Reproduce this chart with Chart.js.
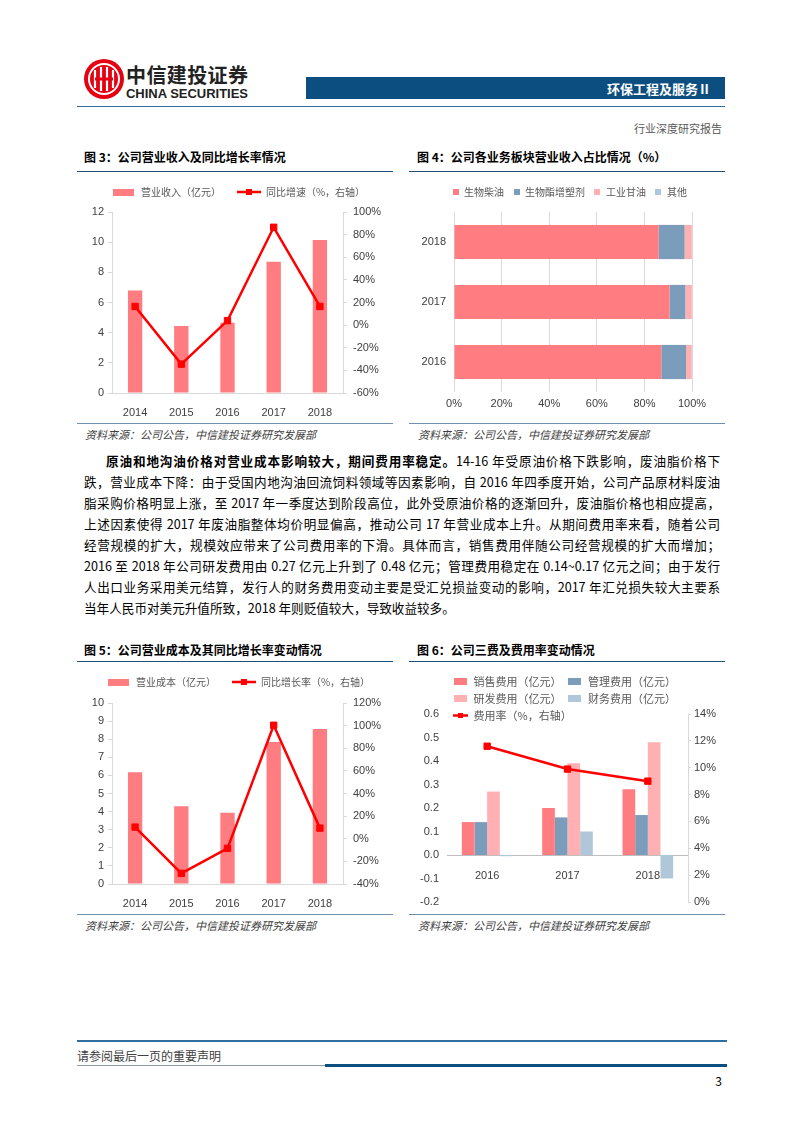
<!DOCTYPE html>
<html>
<head>
<meta charset="utf-8">
<script src="https://cdn.jsdelivr.net/npm/chart.js@4.4.1/dist/chart.umd.min.js"></script>
<style>
body{margin:0;background:#fff;}
#page{position:relative;width:802px;height:1133px;overflow:hidden;background:#fff;font-family:"Noto Sans CJK SC",sans-serif;color:#000;}
.abs{position:absolute;}
.title{position:absolute;font-size:12px;font-weight:bold;line-height:16px;white-space:nowrap;}
.rule{position:absolute;height:0;border-top:1.5px solid #1F4E79;}
.srule{position:absolute;height:0;border-top:1px solid #6F8FAF;}
.src{position:absolute;font-size:11px;font-style:italic;color:#404040;line-height:14px;white-space:nowrap;}
canvas{position:absolute;}
#body{position:absolute;left:84px;top:450px;width:636px;font-size:12.6px;}
#body div{height:21px;line-height:21px;text-align:justify;text-align-last:justify;}
#body div.last{text-align-last:left;}
</style>
</head>
<body>
<div id="page">

<svg class="abs" style="left:76px;top:56px" width="180" height="48">
  <circle cx="28" cy="23" r="20" fill="#E50012"/>
  <circle cx="28" cy="23" r="15" fill="none" stroke="#fff" stroke-width="2"/>
  <path d="M19 14 v18 M25 11 v24 M31 11 v24 M37 14 v18" stroke="#fff" stroke-width="2.2"/>
  <path d="M19 23 h18" stroke="#E50012" stroke-width="3"/>
  <text x="50" y="27" font-size="20" font-weight="bold" fill="#222" textLength="122" font-family="Noto Sans CJK SC">中信建投证券</text>
  <text x="50" y="42" font-size="13" font-weight="bold" fill="#222" textLength="122" font-family="Liberation Sans">CHINA SECURITIES</text>
</svg>
<div class="abs" style="left:306px;top:77px;width:419px;height:22px;background:#0C4E80;"></div>
<div class="abs" style="left:306px;top:80px;width:405px;text-align:right;color:#fff;font-size:13px;font-weight:bold;line-height:18px;">环保工程及服务Ⅱ</div>
<div class="abs" style="left:77px;top:106px;width:648px;height:0;border-top:1.5px solid #2E6E9E;"></div>
<div class="abs" style="left:500px;top:120px;width:222px;text-align:right;color:#595959;font-size:11px;line-height:16px;">行业深度研究报告</div>

<div class="title" style="left:84px;top:149px;">图 3：公司营业收入及同比增长率情况</div>
<div class="rule" style="left:77px;top:171px;width:316px;"></div>
<canvas id="c3" width="323" height="247" style="left:77px;top:171px;"></canvas>
<div class="srule" style="left:77px;top:423px;width:316px;"></div>
<div class="src" style="left:85px;top:427px;">资料来源：公司公告，中信建投证券研究发展部</div>

<div class="title" style="left:417px;top:149px;">图 4：公司各业务板块营业收入占比情况（%）</div>
<div class="rule" style="left:409px;top:171px;width:316px;"></div>
<canvas id="c4" width="321" height="239" style="left:409px;top:178px;"></canvas>
<div class="srule" style="left:409px;top:423px;width:316px;"></div>
<div class="src" style="left:418px;top:427px;">资料来源：公司公告，中信建投证券研究发展部</div>

<div id="body">
<div style="text-indent:22px;"><b>原油和地沟油价格对营业成本影响较大，期间费用率稳定。</b>14-16 年受原油价格下跌影响，废油脂价格下</div>
<div>跌，营业成本下降：由于受国内地沟油回流饲料领域等因素影响，自 2016 年四季度开始，公司产品原材料废油</div>
<div>脂采购价格明显上涨，至 2017 年一季度达到阶段高位，此外受原油价格的逐渐回升，废油脂价格也相应提高，</div>
<div>上述因素使得 2017 年废油脂整体均价明显偏高，推动公司 17 年营业成本上升。从期间费用率来看，随着公司</div>
<div>经营规模的扩大，规模效应带来了公司费用率的下滑。具体而言，销售费用伴随公司经营规模的扩大而增加；</div>
<div>2016 至 2018 年公司研发费用由 0.27 亿元上升到了 0.48 亿元；管理费用稳定在 0.14~0.17 亿元之间；由于发行</div>
<div>人出口业务采用美元结算，发行人的财务费用变动主要是受汇兑损益变动的影响，2017 年汇兑损失较大主要系</div>
<div class="last">当年人民币对美元升值所致，2018 年则贬值较大，导致收益较多。</div>
</div>

<div class="title" style="left:84px;top:642px;">图 5：公司营业成本及其同比增长率变动情况</div>
<div class="rule" style="left:77px;top:661px;width:316px;"></div>
<canvas id="c5" width="323" height="248" style="left:77px;top:661px;"></canvas>
<div class="srule" style="left:77px;top:914px;width:316px;"></div>
<div class="src" style="left:85px;top:918px;">资料来源：公司公告，中信建投证券研究发展部</div>

<div class="title" style="left:417px;top:642px;">图 6：公司三费及费用率变动情况</div>
<div class="rule" style="left:409px;top:661px;width:316px;"></div>
<canvas id="c6" width="321" height="242" style="left:409px;top:670px;"></canvas>
<div class="srule" style="left:409px;top:914px;width:316px;"></div>
<div class="src" style="left:418px;top:918px;">资料来源：公司公告，中信建投证券研究发展部</div>

<div class="abs" style="left:77px;top:1040px;width:650px;height:0;border-top:2px solid #2E6E9E;"></div>
<div class="abs" style="left:77px;top:1048px;color:#404040;font-size:12px;line-height:16px;">请参阅最后一页的重要声明</div>
<div class="abs" style="left:77px;top:1065px;width:248px;height:0;border-top:1px solid #8C9BAA;"></div>
<div class="abs" style="left:325px;top:1064px;width:402px;height:3px;background:#0C4E80;"></div>
<div class="abs" style="left:700px;top:1073px;width:22px;text-align:right;font-size:12px;line-height:16px;">3</div>
</div>

<script>
// fig 3
const years5 = ['2014','2015','2016','2017','2018'];
const revenue = [6.8, 4.45, 4.65, 8.7, 10.15];
const revenueYoY = [16.5, -34.5, 4, 86.5, 16.5];

// fig 4
const shareYears = ['2018','2017','2016'];
const shareBiodiesel = [86.0, 90.6, 87.1];
const sharePlasticizer = [10.9, 6.6, 10.4];
const shareGlycerin = [3.0, 2.7, 2.3];
const shareOther = [0.1, 0.1, 0.2];

// fig 5
const cost = [6.18, 4.3, 3.93, 7.85, 8.57];
const costYoY = [10.3, -30.6, -8.5, 100.3, 9.4];

// fig 6
const feeYears = ['2016','2017','2018'];
const salesFee = [0.14, 0.20, 0.28];
const adminFee = [0.14, 0.16, 0.17];
const rdFee = [0.27, 0.39, 0.48];
const finFee = [-0.005, 0.10, -0.10];
const feeRate = [11.6, 9.9, 9.0];

const FONT = '"Liberation Sans", Arial, sans-serif';
const CJK = '"Noto Sans CJK SC", sans-serif';
const TICK = '#404040';
const AXIS = '#D9D9D9';
const RED = '#FF0000';
const PINK = '#FF7C80';
const STEEL = '#7B9DBB';
const LPINK = '#FFB0B3';
const LBLUE = '#B0C6D9';

// legend needs to be shorter than its rows in fig 6, so its height is set by hand
const fixLegend = {
  id: 'fixLegend',
  beforeLayout(chart, args, opts) {
    const lg = chart.legend;
    if (!lg || lg._fixed) return;
    const fit = lg.fit.bind(lg);
    lg.fit = function () { fit(); this._realH = this.height; this.height = opts.height; };
    lg._fixed = true;
  },
  afterLayout(chart) {
    const lg = chart.legend;
    if (lg && lg._realH) lg.bottom = lg.top + lg._realH + 20;
  }
};

function legendImg(kind, color, w, h) {
  const c = document.createElement('canvas');
  c.width = w; c.height = h;
  const g = c.getContext('2d');
  g.fillStyle = color; g.strokeStyle = color;
  if (kind === 'box') {
    g.fillRect(0, 0, w, h);
  } else {
    g.lineWidth = 2.5;
    g.beginPath(); g.moveTo(0, h / 2); g.lineTo(w, h / 2); g.stroke();
    const s = Math.min(6, h - 2);
    g.fillRect((w - s) / 2, (h - s) / 2, s, s);
  }
  return c;
}

function legendWith(imgs) {
  return function (chart) {
    const items = Chart.defaults.plugins.legend.labels.generateLabels(chart);
    items.forEach(it => { it.pointStyle = imgs[it.datasetIndex]; });
    return items;
  };
}

const tickFont = { family: FONT, size: 11 };

function combo(id, barLabel, bars, lineLabel, line, leftMax, leftStep, rightMin, rightMax, legendH) {
  return new Chart(document.getElementById(id), {
    type: 'bar',
    plugins: [fixLegend],
    data: {
      labels: years5,
      datasets: [{
        label: barLabel,
        data: bars,
        backgroundColor: PINK,
        barPercentage: 0.31,
        categoryPercentage: 1,
        yAxisID: 'y'
      }, {
        type: 'line',
        label: lineLabel,
        data: line,
        borderColor: RED,
        backgroundColor: RED,
        borderWidth: 2.5,
        pointStyle: 'rect',
        pointRadius: 4.5,
        pointBorderWidth: 1,
        yAxisID: 'y1',
        order: -1
      }]
    },
    options: {
      responsive: false,
      animation: false,
      plugins: {
        legend: {
          labels: {
            usePointStyle: true,
            pointStyleWidth: 24,
            padding: 16,
            color: '#595959',
            font: { family: CJK, size: 10 },
            generateLabels: legendWith([legendImg('box', PINK, 21, 7), legendImg('line', RED, 24, 8)]),
            sort: (a, b) => a.datasetIndex - b.datasetIndex
          }
        },
        tooltip: { enabled: false },
        fixLegend: { height: legendH }
      },
      scales: {
        x: {
          grid: { display: false },
          border: { color: AXIS },
          ticks: { color: TICK, font: tickFont, padding: 5 },
          afterFit: s => { s.height = 25; s.paddingLeft = 0; s.paddingRight = 0; }
        },
        y: {
          position: 'left',
          min: 0, max: leftMax,
          ticks: { stepSize: leftStep, color: TICK, font: tickFont, padding: 4 },
          grid: { drawOnChartArea: false, tickLength: 4, color: AXIS },
          border: { color: AXIS },
          afterFit: s => { s.width = 35; s.paddingTop = 0; s.paddingBottom = 0; }
        },
        y1: {
          position: 'right',
          min: rightMin, max: rightMax,
          ticks: { stepSize: 20, color: TICK, font: tickFont, padding: 6, callback: v => v + '%' },
          grid: { drawOnChartArea: false, tickLength: 4, color: AXIS },
          border: { color: AXIS },
          afterFit: s => { s.width = 57; s.paddingTop = 0; s.paddingBottom = 0; }
        }
      }
    }
  });
}

combo('c3', '营业收入（亿元）', revenue, '同比增速（%，右轴）', revenueYoY, 12, 2, -60, 100, 41);
combo('c5', '营业成本（亿元）', cost, '同比增长率（%，右轴）', costYoY, 10, 1, -40, 120, 42);

new Chart(document.getElementById('c4'), {
  type: 'bar',
  plugins: [fixLegend],
  data: {
    labels: shareYears,
    datasets: [
      { label: '生物柴油', data: shareBiodiesel, backgroundColor: PINK },
      { label: '生物酯增塑剂', data: sharePlasticizer, backgroundColor: STEEL },
      { label: '工业甘油', data: shareGlycerin, backgroundColor: LPINK },
      { label: '其他', data: shareOther, backgroundColor: LBLUE }
    ]
  },
  options: {
    indexAxis: 'y',
    responsive: false,
    animation: false,
    datasets: { bar: { barPercentage: 0.57, categoryPercentage: 1 } },
    plugins: {
      legend: {
        labels: {
          usePointStyle: true,
          pointStyleWidth: 7,
          padding: 9,
          color: '#595959',
          font: { family: CJK, size: 10 },
          generateLabels: legendWith([
            legendImg('box', PINK, 6, 6), legendImg('box', STEEL, 6, 6),
            legendImg('box', LPINK, 6, 6), legendImg('box', LBLUE, 6, 6)])
        }
      },
      tooltip: { enabled: false },
      fixLegend: { height: 34 }
    },
    scales: {
      x: {
        stacked: true,
        min: 0, max: 100,
        ticks: { stepSize: 20, color: TICK, font: tickFont, padding: 5, callback: v => v + '%' },
        grid: { color: AXIS, drawTicks: false },
        border: { display: false },
        afterFit: s => { s.height = 25; s.paddingLeft = 0; s.paddingRight = 38; }
      },
      y: {
        stacked: true,
        grid: { display: false, drawTicks: false },
        border: { display: false },
        ticks: { color: TICK, font: tickFont, padding: 8 },
        afterFit: s => { s.width = 45; s.paddingTop = 0; s.paddingBottom = 0; }
      }
    }
  }
});

new Chart(document.getElementById('c6'), {
  type: 'bar',
  plugins: [fixLegend],
  data: {
    labels: feeYears,
    datasets: [
      { label: '销售费用（亿元）', data: salesFee, backgroundColor: PINK },
      { label: '管理费用（亿元）', data: adminFee, backgroundColor: STEEL },
      { label: '研发费用（亿元）', data: rdFee, backgroundColor: LPINK },
      { label: '财务费用（亿元）', data: finFee, backgroundColor: LBLUE },
      {
        type: 'line',
        label: '费用率（%，右轴）',
        data: feeRate,
        borderColor: RED,
        backgroundColor: RED,
        borderWidth: 2.5,
        pointStyle: 'rect',
        pointRadius: 4.5,
        pointBorderWidth: 1,
        yAxisID: 'y1',
        order: -1
      }
    ]
  },
  options: {
    responsive: false,
    animation: false,
    layout: { padding: { bottom: 10 } },
    datasets: { bar: { barPercentage: 1, categoryPercentage: 0.63 } },
    plugins: {
      legend: {
        fullSize: false,
        align: 'start',
        labels: {
          usePointStyle: true,
          pointStyleWidth: 15,
          padding: 6,
          color: '#595959',
          font: { family: CJK, size: 11 },
          generateLabels: legendWith([
            legendImg('box', PINK, 13, 7), legendImg('box', STEEL, 13, 7),
            legendImg('box', LPINK, 13, 7), legendImg('box', LBLUE, 13, 7),
            legendImg('line', RED, 15, 7)]),
          sort: (a, b) => a.datasetIndex - b.datasetIndex
        }
      },
      tooltip: { enabled: false },
      fixLegend: { height: 44 }
    },
    scales: {
      x: {
        position: { y: 0 },
        grid: { display: false },
        border: { color: '#BFBFBF' },
        ticks: { color: TICK, font: tickFont, padding: 6 },
        afterFit: s => { s.height = 0; s.paddingLeft = 0; s.paddingRight = 0; }
      },
      y: {
        position: 'left',
        min: -0.2, max: 0.6,
        ticks: { stepSize: 0.1, color: TICK, font: tickFont, padding: 8,
          callback: v => (Math.abs(v) < 1e-9 ? 0 : v).toFixed(1) },
        grid: { display: false, drawTicks: false },
        border: { display: false },
        afterFit: s => { s.width = 38; s.paddingTop = 0; s.paddingBottom = 0; }
      },
      y1: {
        position: 'right',
        min: 0, max: 14,
        ticks: { stepSize: 2, color: TICK, font: tickFont, padding: 3, callback: v => v + '%' },
        grid: { drawOnChartArea: false, tickLength: 3, color: AXIS },
        border: { color: AXIS },
        afterFit: s => { s.width = 42; s.paddingTop = 0; s.paddingBottom = 0; }
      }
    }
  }
});
</script>
</body>
</html>
